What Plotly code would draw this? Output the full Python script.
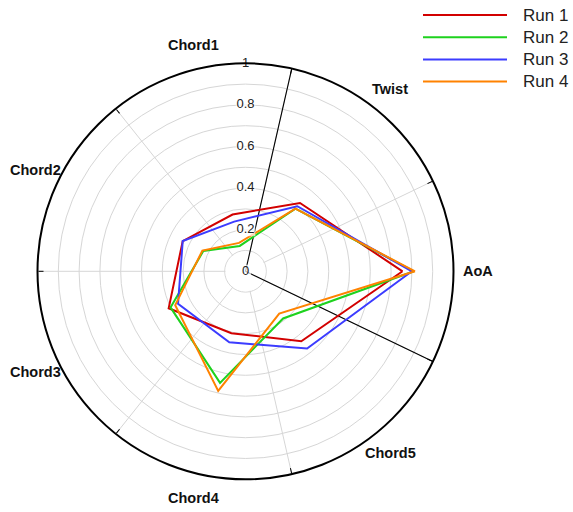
import math
import plotly.graph_objects as go

# Parameters, listed counter-clockwise starting from the 3 o'clock position
categories = ["AoA", "Twist", "Chord1", "Chord2", "Chord3", "Chord4", "Chord5"]

run_names = ["Run 1", "Run 2", "Run 3", "Run 4"]
run1 = [0.755, 0.42, 0.28, 0.335, 0.41, 0.305, 0.43]
run2 = [0.81, 0.385, 0.125, 0.225, 0.40, 0.55, 0.29]
run3 = [0.80, 0.40, 0.245, 0.335, 0.36, 0.35, 0.475]
run4 = [0.815, 0.385, 0.14, 0.23, 0.375, 0.59, 0.26]
run_colors = ["#d20000", "#1ed21e", "#3c3cff", "#ff8200"]

radial_ticks = [0, 0.2, 0.4, 0.6, 0.8, 1]
radial_ticktext = ["0", "0.2", "0.4", "0.6", "0.8", "1"]

W, H = 573, 512
n = len(categories)
step = 360.0 / n
cat_theta = [i * step for i in range(n)]
spoke_theta = [step / 2 + i * step for i in range(n)]

FONT = "Liberation Sans"

fig = go.Figure()

# Keep the angular spokes out of the innermost ring
hub_theta = list(range(0, 361, 5))
fig.add_trace(go.Scatterpolar(
    r=[0.096] * len(hub_theta), theta=hub_theta, mode="lines", fill="toself",
    fillcolor="white", line=dict(color="white", width=0),
    showlegend=False, hoverinfo="skip",
))

# Two black axis spokes
fig.add_trace(go.Scatterpolar(
    r=[0, 1], theta=[-step / 2, -step / 2], mode="lines",
    line=dict(color="black", width=1.1), showlegend=False, hoverinfo="skip",
))
fig.add_trace(go.Scatterpolar(
    r=[0, 1], theta=[1.5 * step, 1.5 * step], mode="lines",
    line=dict(color="black", width=1.1), showlegend=False, hoverinfo="skip",
))

# One closed polygon per run
for name, vals, col in zip(run_names, [run1, run2, run3, run4], run_colors):
    fig.add_trace(go.Scatterpolar(
        r=vals + vals[:1], theta=cat_theta + cat_theta[:1],
        mode="lines", name=name, line=dict(color=col, width=2),
        showlegend=False,
    ))

# Radial tick labels on a white backing, placed straight up
fig.add_trace(go.Scatterpolar(
    r=radial_ticks, theta=[90] * len(radial_ticks), mode="markers+text",
    text=radial_ticktext, textposition="middle center",
    textfont=dict(family=FONT, size=13, color="#222"),
    marker=dict(symbol="line-ew", size=[8 if len(t) == 1 else 14 for t in radial_ticktext],
                color="white", line=dict(color="white", width=13)),
    showlegend=False, hoverinfo="skip", cliponaxis=False,
))

cx, cy, R = 245.5, 271.3, 208.0
fig.update_layout(
    width=W, height=H,
    margin=dict(l=0, r=0, t=0, b=0),
    paper_bgcolor="white",
    showlegend=False,
    font=dict(family=FONT, size=13, color="#222"),
    polar=dict(
        domain=dict(x=[(cx - R) / W, (cx + R) / W],
                    y=[1 - (cy + R) / H, 1 - (cy - R) / H]),
        bgcolor="white",
        radialaxis=dict(
            range=[0, 1], dtick=0.1,
            showline=False, showticklabels=False, ticks="",
            showgrid=True, gridcolor="#d6d6d6", gridwidth=1,
        ),
        angularaxis=dict(
            thetaunit="degrees", direction="counterclockwise", rotation=0,
            tickmode="array", tickvals=spoke_theta, showticklabels=False,
            ticks="inside", ticklen=5, tickwidth=1, tickcolor="black",
            showline=True, linecolor="black", linewidth=2,
            showgrid=True, gridcolor="#d6d6d6", gridwidth=1,
        ),
    ),
)

annots, shapes = [], []

# Category labels just outside the rim
label_r = 1.118 * R
for name, th in zip(categories, cat_theta):
    a = math.radians(th)
    annots.append(dict(
        xref="paper", yref="paper",
        x=(cx + label_r * math.cos(a)) / W, y=1 - (cy - label_r * math.sin(a)) / H,
        xanchor="center", yanchor="middle", showarrow=False,
        text="<b>%s</b>" % name, font=dict(family=FONT, size=14.5, color="#111"),
    ))

# Legend: long line samples with labels at the top right
for i, (name, col) in enumerate(zip(run_names, run_colors)):
    yy = 1 - (15 + 22.2 * i) / H
    shapes.append(dict(type="line", xref="paper", yref="paper",
                       x0=423 / W, x1=507 / W, y0=yy, y1=yy,
                       line=dict(color=col, width=2)))
    annots.append(dict(xref="paper", yref="paper", x=521 / W, y=yy,
                       xanchor="left", yanchor="middle", showarrow=False,
                       text=name, font=dict(family=FONT, size=17, color="#222")))
fig.update_layout(shapes=shapes, annotations=annots)

fig.write_html("out.html")
